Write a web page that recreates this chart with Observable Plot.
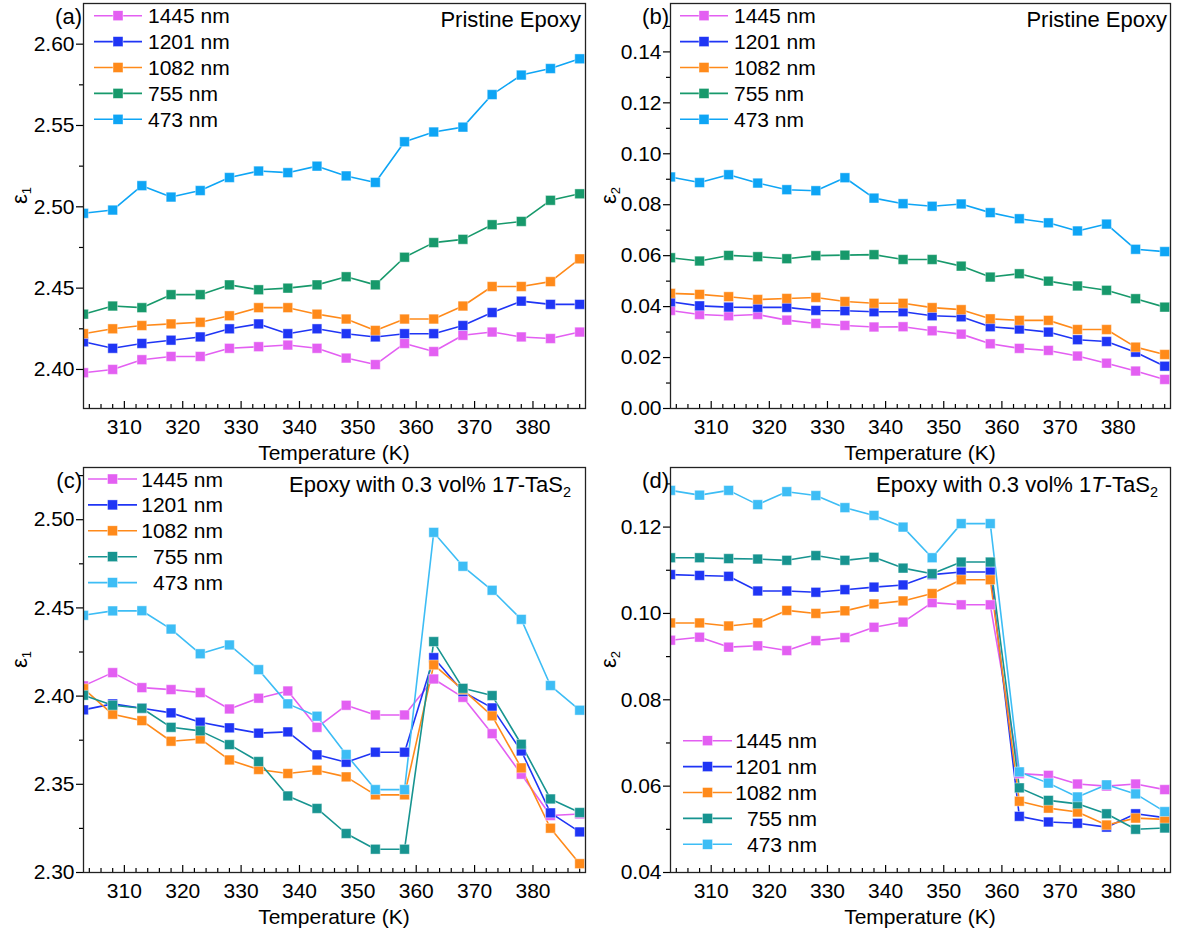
<!DOCTYPE html>
<html>
<head>
<meta charset="utf-8">
<script src="https://cdn.jsdelivr.net/npm/d3@7"></script>
<script src="https://cdn.jsdelivr.net/npm/@observablehq/plot@0.6"></script>
<style>
  html, body { margin: 0; padding: 0; background: #fff; }
  #root { position: relative; width: 1178px; height: 933px; background: #fff; overflow: hidden; }
  .pan { position: absolute; }
  svg { overflow: visible; }
</style>
</head>
<body>
<div id="root">
  <div class="pan" id="pa" style="left:0px;top:0px"></div>
  <div class="pan" id="pb" style="left:589px;top:0px"></div>
  <div class="pan" id="pc" style="left:0px;top:464px"></div>
  <div class="pan" id="pd" style="left:589px;top:464px"></div>
</div>
<script>
// ---------- data ----------
const temps = [303, 308, 313, 318, 323, 328, 333, 338, 343, 348, 353, 358, 363, 368, 373, 378, 383, 388];
const series = ["1445 nm", "1201 nm", "1082 nm", "755 nm", "473 nm"];
const xTicks = [310, 320, 330, 340, 350, 360, 370, 380];

// (a) Pristine epoxy, eps1
const a1445 = [2.398, 2.400, 2.406, 2.408, 2.408, 2.413, 2.414, 2.415, 2.413, 2.407, 2.403, 2.416, 2.411, 2.421, 2.423, 2.420, 2.419, 2.423];
const a1201 = [2.417, 2.413, 2.416, 2.418, 2.420, 2.425, 2.428, 2.422, 2.425, 2.422, 2.420, 2.422, 2.422, 2.427, 2.435, 2.442, 2.440, 2.440];
const a1082 = [2.422, 2.425, 2.427, 2.428, 2.429, 2.433, 2.438, 2.438, 2.434, 2.431, 2.424, 2.431, 2.431, 2.439, 2.451, 2.451, 2.454, 2.468];
const a755  = [2.434, 2.439, 2.438, 2.446, 2.446, 2.452, 2.449, 2.450, 2.452, 2.457, 2.452, 2.469, 2.478, 2.480, 2.489, 2.491, 2.504, 2.508];
const a473  = [2.496, 2.498, 2.513, 2.506, 2.510, 2.518, 2.522, 2.521, 2.525, 2.519, 2.515, 2.540, 2.546, 2.549, 2.569, 2.581, 2.585, 2.591];

// (b) Pristine epoxy, eps2
const b1445 = [0.0385, 0.0369, 0.0364, 0.0369, 0.0347, 0.0334, 0.0326, 0.0320, 0.0321, 0.0305, 0.0292, 0.0254, 0.0236, 0.0228, 0.0206, 0.0178, 0.0147, 0.0114];
const b1201 = [0.0419, 0.0403, 0.0398, 0.0397, 0.0397, 0.0385, 0.0384, 0.0380, 0.0380, 0.0364, 0.0360, 0.0321, 0.0312, 0.0300, 0.0270, 0.0263, 0.0221, 0.0166];
const b1082 = [0.0452, 0.0448, 0.0439, 0.0428, 0.0432, 0.0436, 0.0420, 0.0413, 0.0413, 0.0396, 0.0388, 0.0352, 0.0346, 0.0346, 0.0310, 0.0310, 0.0241, 0.0212];
const b755  = [0.0592, 0.0579, 0.0601, 0.0596, 0.0588, 0.0600, 0.0602, 0.0604, 0.0585, 0.0585, 0.0559, 0.0516, 0.0529, 0.0500, 0.0481, 0.0464, 0.0431, 0.0398];
const b473  = [0.0909, 0.0887, 0.0918, 0.0885, 0.0859, 0.0855, 0.0906, 0.0826, 0.0804, 0.0794, 0.0803, 0.0769, 0.0745, 0.0729, 0.0697, 0.0724, 0.0625, 0.0616];

// (c) Epoxy + 0.3 vol% 1T-TaS2, eps1
const c1445 = [2.4058, 2.4133, 2.4048, 2.4037, 2.4020, 2.3927, 2.3988, 2.4029, 2.3823, 2.3948, 2.3893, 2.3893, 2.4097, 2.3993, 2.3787, 2.3557, 2.3323, 2.3332];
const c1201 = [2.3922, 2.3956, 2.3931, 2.3905, 2.3852, 2.3820, 2.3790, 2.3797, 2.3667, 2.3625, 2.3682, 2.3682, 2.4218, 2.4025, 2.3933, 2.3689, 2.3338, 2.3230];
const c1082 = [2.4042, 2.3897, 2.3861, 2.3744, 2.3757, 2.3638, 2.3584, 2.3561, 2.3580, 2.3542, 2.3440, 2.3440, 2.4177, 2.4037, 2.3888, 2.3593, 2.3251, 2.3050];
const c755  = [2.4005, 2.3948, 2.3931, 2.3823, 2.3803, 2.3725, 2.3629, 2.3434, 2.3363, 2.3221, 2.3132, 2.3132, 2.4309, 2.4044, 2.4003, 2.3727, 2.3417, 2.3340];
const c473  = [2.4458, 2.4483, 2.4484, 2.4380, 2.4240, 2.4290, 2.4150, 2.3956, 2.3886, 2.3669, 2.3470, 2.3470, 2.4928, 2.4736, 2.4600, 2.4435, 2.4060, 2.3920];

// (d) Epoxy + 0.3 vol% 1T-TaS2, eps2
const d1445 = [0.0938, 0.0945, 0.0922, 0.0925, 0.0914, 0.0937, 0.0944, 0.0968, 0.0980, 0.1025, 0.1020, 0.1020, 0.0629, 0.0625, 0.0605, 0.0600, 0.0605, 0.0592];
const d1201 = [0.1090, 0.1088, 0.1086, 0.1052, 0.1052, 0.1049, 0.1055, 0.1061, 0.1066, 0.1090, 0.1096, 0.1096, 0.0530, 0.0517, 0.0514, 0.0505, 0.0536, 0.0527];
const d1082 = [0.0978, 0.0978, 0.0971, 0.0978, 0.1007, 0.1000, 0.1006, 0.1022, 0.1029, 0.1046, 0.1078, 0.1078, 0.0565, 0.0549, 0.0540, 0.0510, 0.0526, 0.0523];
const d755  = [0.1129, 0.1129, 0.1127, 0.1126, 0.1123, 0.1134, 0.1123, 0.1130, 0.1105, 0.1092, 0.1119, 0.1119, 0.0596, 0.0567, 0.0559, 0.0536, 0.0500, 0.0503];
const d473  = [0.1285, 0.1274, 0.1285, 0.1252, 0.1282, 0.1273, 0.1245, 0.1227, 0.1200, 0.1129, 0.1208, 0.1208, 0.0633, 0.0607, 0.0575, 0.0603, 0.0582, 0.0541];

const yTicksA = [2.40, 2.45, 2.50, 2.55, 2.60];
const yTicksB = [0.00, 0.02, 0.04, 0.06, 0.08, 0.10, 0.12, 0.14];
const yTicksC = [2.30, 2.35, 2.40, 2.45, 2.50];
const yTicksD = [0.04, 0.06, 0.08, 0.10, 0.12];

// ---------- styles ----------
const colorsTop = ["#e35ff2", "#1f35f5", "#ff8a1a", "#17996b", "#0ea5f5"];
const colorsBot = ["#e35ff2", "#1f35f5", "#ff8a1a", "#179490", "#3dbdf5"];
const FONT = "'Liberation Sans', Arial, Helvetica, sans-serif";
const FS = 21;

function rowsOf(values) {
  return temps.flatMap((t, i) => series.map((s, k) => ({T: t, v: values[k][i], s})));
}

function panel(cfg) {
  const frameH = cfg.height - cfg.mt - cfg.mb;
  const step = cfg.yTicks[1] - cfg.yTicks[0];
  const yMinor = cfg.yTicks.map(d => d + step / 2).concat([cfg.yTicks[0] - step / 2])
    .filter(d => d > cfg.yDomain[0] && d < cfg.yDomain[1]);
  const xMinor = d3.range(304, 389, 2).filter(d => d % 10 !== 0);
  const data = rowsOf(cfg.values);
  const svg = Plot.plot({
    width: 589,
    height: cfg.height,
    marginLeft: cfg.ml, marginRight: cfg.mr, marginTop: cfg.mt, marginBottom: cfg.mb,
    style: {fontFamily: FONT, fontSize: FS + "px", color: "#000", background: "transparent"},
    x: {domain: [303, 389]},
    y: {domain: cfg.yDomain},
    color: {domain: series, range: cfg.colors},
    marks: [
      Plot.axisX({ticks: xTicks, tickSize: 0, tickPadding: 11, tickFormat: d => String(d), label: null}),
      Plot.tickX(xTicks, {x: d => d, insetTop: frameH - 7, stroke: "#000", strokeWidth: 1.2}),
      Plot.tickX(xMinor, {x: d => d, insetTop: frameH - 4, stroke: "#000", strokeWidth: 1.2}),
      Plot.axisY({ticks: cfg.yTicks, tickSize: 7, tickPadding: 2, tickFormat: d3.format(".2f"), label: null, strokeWidth: 1.2}),
      Plot.axisY({ticks: yMinor, tickSize: 4, tickFormat: () => "", label: null, strokeWidth: 1.2}),
      Plot.line(data, {x: "T", y: "v", z: "s", stroke: "s", strokeWidth: 1.6, clip: true}),
      Plot.dot(data, {x: "T", y: "v", fill: "s", symbol: "square", r: 5.5, stroke: "#fff", strokeWidth: 0.6, strokeOpacity: 0.7, clip: true}),
      Plot.frame({stroke: "#222", strokeWidth: 1.3})
    ]
  });
  const g = d3.select(svg);
  const left = cfg.ml, right = 589 - cfg.mr;
  // panel letter
  g.append("text").attr("x", left - 1).attr("y", 24).attr("text-anchor", "end")
    .attr("font-size", 22).attr("font-family", FONT).text(cfg.letter);
  // x label
  g.append("text").attr("x", (left + right) / 2).attr("y", cfg.height - cfg.mb + 51.5)
    .attr("text-anchor", "middle").attr("font-size", FS).attr("font-family", FONT)
    .text("Temperature (K)");
  // y label
  const yl = g.append("text")
    .attr("transform", `translate(27,${cfg.mt + frameH / 2 - 10}) rotate(-90)`)
    .attr("text-anchor", "middle").attr("font-size", 22).attr("font-family", FONT);
  yl.append("tspan").text("ε");
  yl.append("tspan").attr("font-size", 13).attr("dy", 4).text(cfg.ySub);
  // title
  const t = g.append("text").attr("x", cfg.titleX).attr("y", cfg.titleY)
    .attr("text-anchor", "end").attr("font-size", 22).attr("font-family", FONT);
  cfg.title.forEach(p => {
    const ts = t.append("tspan").text(p.text);
    if (p.italic) ts.attr("font-style", "italic");
    if (p.sub) ts.attr("font-size", 14.5).attr("dy", 5);
  });
  // legend
  const L = cfg.legend;
  series.forEach((s, i) => {
    const y = L.y0 + i * L.dy;
    const c = cfg.colors[i];
    g.append("line").attr("x1", L.x1).attr("x2", L.x2).attr("y1", y).attr("y2", y)
      .attr("stroke", c).attr("stroke-width", 1.6);
    g.append("rect").attr("x", (L.x1 + L.x2) / 2 - 5).attr("y", y - 5)
      .attr("width", 10).attr("height", 10).attr("fill", c)
      .attr("stroke", "#fff").attr("stroke-width", 0.6).attr("stroke-opacity", 0.7);
    g.append("text").attr("x", L.tx).attr("y", y).attr("dy", "0.36em")
      .attr("text-anchor", L.anchor).attr("font-size", FS).attr("font-family", FONT).text(s);
  });
  document.getElementById(cfg.id).appendChild(svg);
}

const titleTop = [{text: "Pristine Epoxy"}];
const titleBot = [{text: "Epoxy with 0.3 vol% 1"}, {text: "T", italic: true}, {text: "-TaS"}, {text: "2", sub: true}];

panel({id: "pa", letter: "(a)", height: 466, ml: 83, mr: 4, mt: 3, mb: 58, yDomain: [2.376, 2.625], yTicks: yTicksA,
  values: [a1445, a1201, a1082, a755, a473], colors: colorsTop, ySub: "1",
  title: titleTop, titleX: 581, titleY: 27,
  legend: {x1: 94, x2: 142, tx: 148, anchor: "start", y0: 15.7, dy: 25.9}});
panel({id: "pb", letter: "(b)", height: 466, ml: 81, mr: 8, mt: 3, mb: 58, yDomain: [0, 0.159], yTicks: yTicksB,
  values: [b1445, b1201, b1082, b755, b473], colors: colorsTop, ySub: "2",
  title: titleTop, titleX: 578, titleY: 27,
  legend: {x1: 91, x2: 139, tx: 145, anchor: "start", y0: 15.7, dy: 25.9}});
panel({id: "pc", letter: "(c)", height: 469, ml: 83, mr: 4, mt: 3, mb: 61, yDomain: [2.30, 2.5296], yTicks: yTicksC,
  values: [c1445, c1201, c1082, c755, c473], colors: colorsBot, ySub: "1",
  title: titleBot, titleX: 571, titleY: 28,
  legend: {x1: 88, x2: 137, tx: 223, anchor: "end", y0: 15, dy: 25.9}});
panel({id: "pd", letter: "(d)", height: 469, ml: 81, mr: 8, mt: 3, mb: 61, yDomain: [0.04, 0.1338], yTicks: yTicksD,
  values: [d1445, d1201, d1082, d755, d473], colors: colorsBot, ySub: "2",
  title: titleBot, titleX: 569, titleY: 28,
  legend: {x1: 94, x2: 143, tx: 228, anchor: "end", y0: 276.7, dy: 25.9}});
</script>
</body>
</html>
